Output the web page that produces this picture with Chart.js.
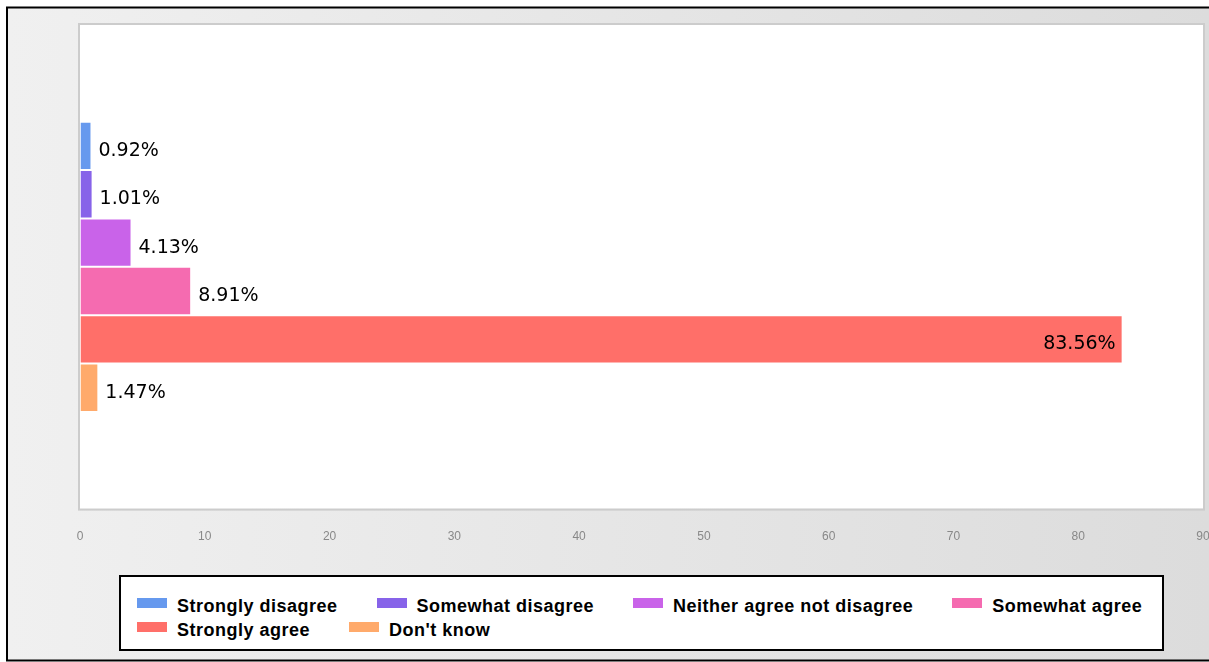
<!DOCTYPE html>
<html>
<head>
<meta charset="utf-8">
<script src="https://cdn.jsdelivr.net/npm/chart.js@4.4.1/dist/chart.umd.min.js"></script>
<style>
  html, body { margin: 0; padding: 0; background: #fff; overflow: hidden; }
  #wrap { position: relative; width: 1216px; height: 662px; }
  #legend {
    position: absolute; left: 119px; top: 575px; width: 1041px; height: 72px;
    border: 2px solid #000; background: #fff;
    box-sizing: content-box;
    padding: 0; 
  }
  #legend ul {
    list-style: none; margin: 0; padding: 19px 0 0 16px;
    display: flex; flex-wrap: wrap; gap: 4px 39px;
  }
  #legend li {
    display: flex; align-items: flex-start;
    font: bold 18px "Liberation Sans", Arial, sans-serif; letter-spacing: 0.5px;
    line-height: 20px; color: #000;
  }
  #legend li span.box { width: 30px; height: 10px; margin: 2px 10px 0 0; display: inline-block; }
</style>
</head>
<body>
<div id="wrap">
  <canvas id="myChart" width="1216" height="662"></canvas>
  <div id="legend"></div>
</div>
<script>
var categories = [''];
var seriesNames = ['Strongly disagree', 'Somewhat disagree', 'Neither agree not disagree', 'Somewhat agree', 'Strongly agree', "Don't know"];
var seriesValues = [0.92, 1.01, 4.13, 8.91, 83.56, 1.47];
var seriesColors = ['#6699EE', '#8763E9', '#C963E9', '#F56BB0', '#FF6F69', '#FFAA6B'];
var tickMin = 0, tickMax = 90, tickStep = 10;

// background, outer frame, white plot area
var backdrop = {
  id: 'backdrop',
  beforeDraw: function(chart){
    var c = chart.ctx, a = chart.chartArea;
    c.save();
    c.fillStyle = '#fff';
    c.fillRect(0, 0, chart.width, chart.height);
    var g = c.createLinearGradient(7, 0, 1209, 0);
    g.addColorStop(0, '#f0f0f0');
    g.addColorStop(1, '#dcdcdc');
    c.fillStyle = g;
    c.fillRect(7, 7, chart.width, 654);
    c.strokeStyle = '#000';
    c.lineWidth = 2;
    c.strokeRect(7, 7.5, chart.width + 10, 653);
    c.fillStyle = '#fff';
    c.fillRect(a.left, a.top, a.right - a.left, a.bottom - a.top);
    c.strokeStyle = '#cccccc';
    c.strokeRect(a.left - 1, a.top - 1, a.right - a.left + 2, a.bottom - a.top + 2);
    c.restore();
  }
};

// value labels at end of each bar, big ones go inside
var valueLabels = {
  id: 'valueLabels',
  afterDatasetsDraw: function(chart){
    var c = chart.ctx;
    c.save();
    c.font = '19px "DejaVu Sans", Verdana, sans-serif';
    c.fillStyle = '#000';
    c.textBaseline = 'middle';
    chart.data.datasets.forEach(function(ds, i){
      var bar = chart.getDatasetMeta(i).data[0];
      var v = ds.data[0];
      var txt = v.toFixed(2) + '%';
      var x;
      if (v > tickMax / 2) {
        c.textAlign = 'right';
        x = bar.x - 7;
      } else {
        c.textAlign = 'left';
        x = bar.x + 7;
      }
      c.fillText(txt, x, bar.y + 5);
    });
    c.restore();
  }
};

var htmlLegend = {
  id: 'htmlLegend',
  afterUpdate: function(chart){
    var box = document.getElementById('legend');
    var ul = document.createElement('ul');
    chart.data.datasets.forEach(function(ds){
      var li = document.createElement('li');
      var sw = document.createElement('span');
      sw.className = 'box';
      sw.style.background = ds.backgroundColor;
      li.appendChild(sw);
      li.appendChild(document.createTextNode(ds.label));
      ul.appendChild(li);
    });
    box.innerHTML = '';
    box.appendChild(ul);
  }
};

var datasets = [];
for (var i = 0; i < seriesNames.length; i++) {
  datasets.push({
    label: seriesNames[i],
    data: [seriesValues[i]],
    backgroundColor: seriesColors[i],
    borderColor: 'rgba(255,255,255,0.55)',
    borderWidth: 1,
    categoryPercentage: 0.6,
    barPercentage: 1.0
  });
}

var ctx = document.getElementById('myChart').getContext('2d');
var myChart = new Chart(ctx, {
  type: 'bar',
  data: { labels: categories, datasets: datasets },
  options: {
    indexAxis: 'y',
    responsive: false,
    animation: false,
    layout: { padding: { left: 80, top: 25, right: 13, bottom: 115 } },
    plugins: {
      legend: { display: false },
      tooltip: { enabled: false }
    },
    scales: {
      x: {
        min: tickMin, max: tickMax,
        // invisible tick marks give the gap under the plot
        grid: { display: true, drawOnChartArea: false, drawTicks: true, tickLength: 18, color: 'rgba(0,0,0,0)' },
        border: { display: false },
        ticks: {
          stepSize: tickStep, padding: 3, color: '#888',
          font: { family: '"Liberation Sans", Arial, sans-serif', size: 12 }
        }
      },
      y: {
        grid: { display: false, drawTicks: false },
        border: { display: false },
        ticks: { display: false }
      }
    }
  },
  plugins: [backdrop, valueLabels, htmlLegend]
});
</script>
</body>
</html>
